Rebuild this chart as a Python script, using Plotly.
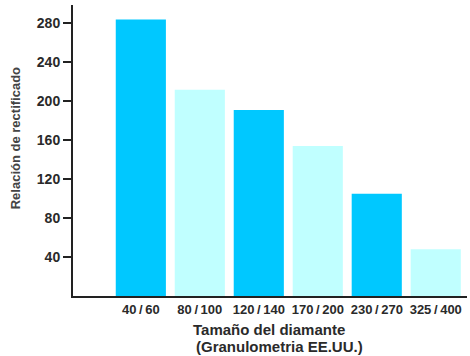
import plotly.graph_objects as go

# Diamond grit sizes (US mesh) and grinding ratio for each
categories = ["40/60", "80/100", "120/140", "170/200", "230/270", "325/400"]
ratio = [284, 212, 191, 154, 105, 48]
tick_values = [40, 80, 120, 160, 200, 240, 280]

dark = "#00c8ff"
light = "#c0ffff"
colors = [dark if i % 2 == 0 else light for i in range(len(categories))]
positions = list(range(len(categories)))

# thin spaces around the slash, as in the printed labels
tick_text = [f"<b>{c.replace('/', '\u2009/\u2009')}</b>" for c in categories]

fig = go.Figure(
    go.Bar(
        x=positions,
        y=ratio,
        marker=dict(color=colors, line=dict(width=0)),
        width=0.85,
        hoverinfo="skip",
    )
)

font_family = "Liberation Sans, Arial, sans-serif"
text_color = "#2a2a2a"

fig.update_layout(
    width=470,
    height=356,
    margin=dict(l=73, r=3, t=5, b=60),
    paper_bgcolor="white",
    plot_bgcolor="white",
    showlegend=False,
    font=dict(family=font_family, color=text_color),
    xaxis=dict(
        range=[-1.15, 5.53],
        tickvals=positions,
        ticktext=tick_text,
        showgrid=False,
        zeroline=False,
        showline=True,
        linecolor="#222222",
        linewidth=2,
        ticks="",
        tickfont=dict(size=13, color=text_color),
        fixedrange=True,
    ),
    yaxis=dict(
        range=[0, 299],
        tickvals=tick_values,
        ticktext=[f"<b>{v}</b>" for v in tick_values],
        showgrid=False,
        zeroline=False,
        showline=True,
        linecolor="#222222",
        linewidth=2,
        ticks="outside",
        ticklen=8,
        tickwidth=1.5,
        tickcolor="#222222",
        tickfont=dict(size=14, color=text_color),
        fixedrange=True,
    ),
    annotations=[
        dict(
            text="<b>Relación de rectificado</b>",
            xref="paper", yref="paper",
            x=-73 / 394 + 15 / 394, y=(296.5 - 138.5) / 291.5,
            xanchor="center", yanchor="middle",
            textangle=-90, showarrow=False,
            font=dict(size=13, color="#444444"),
        ),
        dict(
            text="<b>Tamaño del diamante</b>",
            xref="paper", yref="paper",
            x=(269 - 73) / 394, y=-(330 - 296.5) / 291.5,
            xanchor="center", yanchor="middle",
            showarrow=False,
            font=dict(size=15, color=text_color),
        ),
        dict(
            text="<b>(Granulometria EE.UU.)</b>",
            xref="paper", yref="paper",
            x=(279 - 73) / 394, y=-(347 - 296.5) / 291.5,
            xanchor="center", yanchor="middle",
            showarrow=False,
            font=dict(size=15, color=text_color),
        ),
    ],
)

fig.write_html("out.html")
